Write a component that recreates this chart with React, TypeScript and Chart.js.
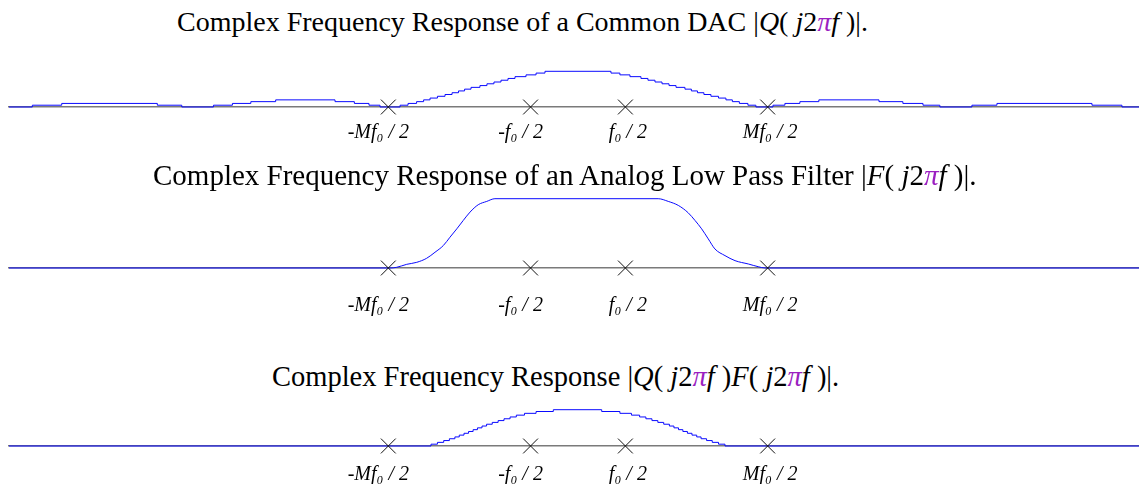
import React, { useEffect, useRef } from "react";
import { Chart, registerables } from "chart.js";

Chart.register(...registerables);

// Frequency axis in units of Mf0/2 (M = 4)
const tickValues = [-1, -0.25, 0.25, 1];
const tickLabels = ["-Mf\u2080 / 2    ", "-f\u2080 / 2    ", " f\u2080 / 2", " Mf\u2080 / 2"];

// Panel 1: |Q(j2πf)| of a DAC (staircase, levels in twentieths)
const dacFreq = [
  -3, -2.877, -2.722, -2.218, -2.089, -1.922, -1.822, -1.725, -1.594, -1.281, -1.179, -1.102, -1.044,
  -0.938, -0.896, -0.851, -0.814, -0.78, -0.741, -0.701, -0.664, -0.63, -0.598, -0.564, -0.517, -0.48,
  -0.443, -0.406, -0.369, -0.332, -0.274, -0.221, -0.174,
  0.174, 0.221, 0.274, 0.332, 0.369, 0.406, 0.443, 0.48, 0.517, 0.564, 0.598, 0.63, 0.664, 0.701, 0.741,
  0.78, 0.814, 0.851, 0.896, 0.938,
  1.028, 1.091, 1.17, 1.27, 1.587, 1.713, 1.819, 1.908, 2.077, 2.209, 2.71, 2.868, 2.958,
];
const dacLevel = [
  0, 1, 2, 1, 0, 1, 2, 3, 4, 3, 2, 1, 0,
  1, 2, 3, 4, 5, 6, 7, 8, 9, 10, 11, 12, 13, 14, 15, 16, 17, 18, 19, 20,
  19, 18, 17, 16, 15, 14, 13, 12, 11, 10, 9, 8, 7, 6, 5, 4, 3, 2, 1, 0,
  1, 2, 3, 4, 3, 2, 1, 0, 1, 2, 1, 0, 0,
];

// Panel 2: |F(j2πf)| of an analog low pass filter
const lpfFreq = [
  -3, -0.991, -0.956, -0.903, -0.85, -0.798, -0.754, -0.71, -0.675, -0.639, -0.605, -0.569, -0.526, -0.481, -0.438,
  0.423, 0.476, 0.529, 0.581, 0.617, 0.652, 0.687, 0.722, 0.775, 0.828, 0.898, 0.95, 0.986, 2.958,
];
const lpfGain = [
  0, 0, 0.01, 0.053, 0.082, 0.14, 0.227, 0.324, 0.444, 0.565, 0.686, 0.807, 0.913, 0.961, 1,
  1, 0.961, 0.903, 0.797, 0.686, 0.565, 0.42, 0.275, 0.179, 0.106, 0.058, 0.019, 0, 0,
];

// Panel 3: |Q F| product (staircase, levels in twentieths)
const prodFreq = [
  -3, -0.775, -0.741, -0.708, -0.678, -0.649, -0.626, -0.601, -0.577, -0.553, -0.53, -0.506, -0.482, -0.452,
  -0.421, -0.39, -0.358, -0.325, -0.282, -0.221, -0.13,
  0.125, 0.221, 0.282, 0.325, 0.358, 0.39, 0.421, 0.452, 0.482, 0.506, 0.53, 0.553, 0.577, 0.601, 0.626,
  0.649, 0.678, 0.708, 0.741, 0.775, 2.958,
];
const prodLevel = [
  0, 1, 2, 3, 4, 5, 6, 7, 8, 9, 10, 11, 12, 13, 14, 15, 16, 17, 18, 19, 20,
  19, 18, 17, 16, 15, 14, 13, 12, 11, 10, 9, 8, 7, 6, 5, 4, 3, 2, 1, 0, 0,
];

const X_MIN = -3;
const X_MAX = 2.958;

type PanelProps = {
  top: number;
  padTop: number;
  chartH: number;
  axisH: number;
  tickPad: number;
  xs: number[];
  ys: number[];
  stepped: boolean;
};

function Panel({ top, padTop, chartH, axisH, tickPad, xs, ys, stepped }: PanelProps) {
  const ref = useRef<HTMLCanvasElement>(null);
  const height = Math.ceil(padTop + chartH + axisH);
  useEffect(() => {
    const chart = new Chart(ref.current!, {
      type: "line",
      data: {
        datasets: [
          {
            type: "scatter",
            data: tickValues.map((v) => ({ x: v, y: 0 })),
            pointStyle: "crossRot",
            pointRadius: 10.5,
            borderColor: "#111",
            borderWidth: 1,
            backgroundColor: "transparent",
            showLine: false,
            clip: false,
            order: 0,
          } as any,
          {
            data: xs.map((x, i) => ({ x, y: ys[i] })),
            borderColor: "#0a0aff",
            borderWidth: 1,
            pointRadius: 0,
            stepped: stepped ? "before" : false,
            tension: stepped ? 0 : 0.3,
            cubicInterpolationMode: stepped ? "default" : "monotone",
            fill: false,
            clip: false,
            order: 1,
          } as any,
        ],
      },
      options: {
        animation: false,
        responsive: false,
        maintainAspectRatio: false,
        events: [],
        layout: { autoPadding: false, padding: { left: 9, right: 0, top: padTop, bottom: 0 } },
        plugins: { legend: { display: false }, tooltip: { enabled: false }, title: { display: false } },
        scales: {
          x: {
            type: "linear",
            min: X_MIN,
            max: X_MAX,
            grid: { display: false, drawTicks: false },
            border: { display: true, color: "#7a7a7a", width: 1.5 },
            afterBuildTicks: (s: any) => {
              s.ticks = tickValues.map((v) => ({ value: v }));
            },
            afterFit: (s: any) => {
              s.height = axisH;
            },
            ticks: {
              autoSkip: false,
              maxRotation: 0,
              padding: tickPad,
              color: "#000",
              font: { family: "'Liberation Serif', 'Times New Roman', serif", style: "italic", size: 20 },
              callback: (v: any) => {
                const i = tickValues.indexOf(Number(v));
                return i >= 0 ? tickLabels[i] : "";
              },
            },
          },
          y: { display: false, min: 0, max: 1 },
        },
      },
    } as any);
    return () => chart.destroy();
  }, []);
  return (
    <canvas
      ref={ref}
      width={1139}
      height={height}
      style={{ position: "absolute", left: 0, top, width: 1139, height }}
    />
  );
}

const titleFont = "'Liberation Serif', 'Times New Roman', serif";
const piColor = "#9b1fc1";

function Pi() {
  return <i style={{ color: piColor }}>π</i>;
}

export default function App() {
  const titleStyle = (left: number, top: number, size: number): React.CSSProperties => ({
    position: "absolute",
    left,
    top,
    fontFamily: titleFont,
    fontSize: size,
    lineHeight: 1,
    whiteSpace: "pre",
    color: "#000",
  });
  return (
    <div style={{ position: "absolute", left: 0, top: 0, width: 1139, height: 484, background: "#fff", overflow: "hidden" }}>
      <Panel top={60} padTop={11.3} chartH={35.4} axisH={40} tickPad={14} xs={dacFreq} ys={dacLevel.map((l) => l / 20)} stepped={true} />
      <Panel top={185} padTop={13.7} chartH={69} axisH={48} tickPad={25.5} xs={lpfFreq} ys={lpfGain} stepped={false} />
      <Panel top={398} padTop={11.7} chartH={36} axisH={42} tickPad={16.5} xs={prodFreq} ys={prodLevel.map((l) => l / 20)} stepped={true} />
      <div style={titleStyle(177, 8.3, 28)}>
        Complex Frequency Response of a Common DAC |<i>Q</i>( <i>j</i>2<Pi /><i>f</i> )|.
      </div>
      <div style={titleStyle(153, 161, 29)}>
        Complex Frequency Response of an Analog Low Pass Filter |<i>F</i>( <i>j</i>2<Pi /><i>f</i> )|.
      </div>
      <div style={titleStyle(272, 363.3, 28.5)}>
        Complex Frequency Response |<i>Q</i>( <i>j</i>2<Pi /><i>f</i> )<i>F</i>( <i>j</i>2<Pi /><i>f</i> )|.
      </div>
    </div>
  );
}
